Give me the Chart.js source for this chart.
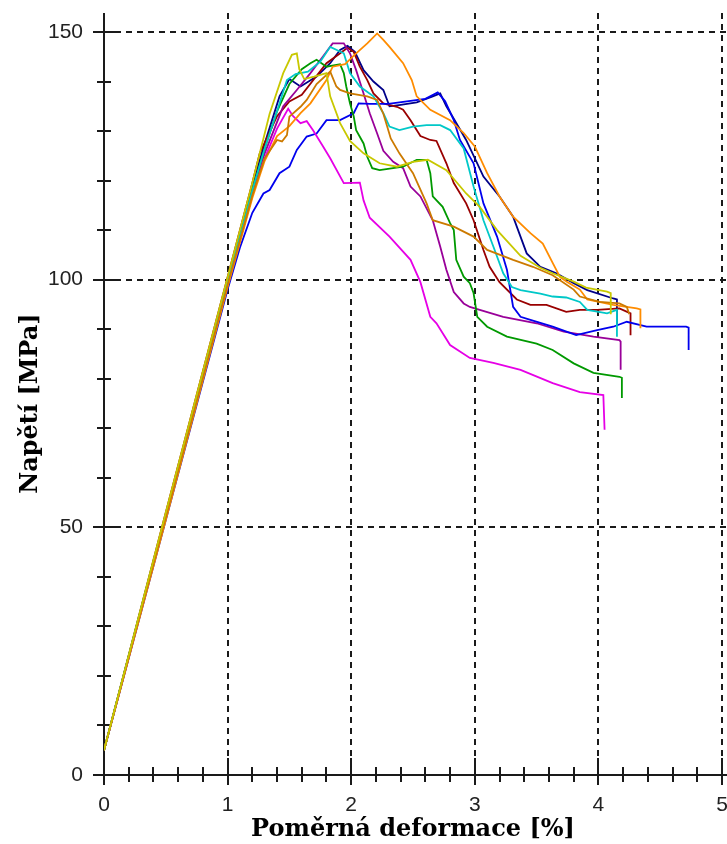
<!DOCTYPE html>
<html>
<head>
<meta charset="utf-8">
<title>Napětí – poměrná deformace</title>
<script src="https://cdn.jsdelivr.net/npm/chart.js@4.4.1/dist/chart.umd.min.js"></script>
<style>
  html, body { margin: 0; padding: 0; background: #fff; }
  canvas { display: block; }
</style>
</head>
<body>
<canvas id="chart" width="727" height="844"></canvas>
<script>
// Tensile test curves: strain [%] vs. stress [MPa], one pair of arrays per specimen.
const strainYellow = [0, 0.5, 1.0, 1.2, 1.34, 1.45, 1.52, 1.56, 1.58, 1.62, 1.7, 1.8, 1.83, 1.91, 1.99, 2.1, 2.23, 2.37, 2.5, 2.62, 2.77, 2.93, 3.04, 3.18, 3.37, 3.53, 3.63, 3.8, 3.9, 4.07, 4.1, 4.1];
const stressYellow = [5, 53, 100.5, 119.5, 133.5, 141.7, 145.4, 145.7, 142.5, 140.5, 141, 141.7, 137, 131.6, 128, 125.5, 123.5, 122.8, 123.8, 124.2, 122.1, 117.4, 114.7, 110, 104.8, 102.4, 101.3, 99.6, 98.4, 97.6, 97.3, 93];

const strainDarkRed = [0, 0.5, 1.0, 1.2, 1.26, 1.4, 1.5, 1.6, 1.7, 1.8, 1.9, 1.97, 2.02, 2.07, 2.13, 2.18, 2.26, 2.37, 2.42, 2.48, 2.56, 2.64, 2.69, 2.77, 2.83, 2.93, 2.99, 3.07, 3.12, 3.2, 3.34, 3.45, 3.58, 3.74, 3.85, 3.99, 4.17, 4.26, 4.26];
const stressDarkRed = [5, 53, 100.5, 119.5, 125.5, 133, 136, 137.3, 140.5, 143.7, 145.5, 146.8, 146, 143, 140.3, 137.6, 135.6, 134.9, 134.3, 132.2, 129, 128.2, 128, 123.5, 119.5, 115.4, 112, 106, 102.6, 99.5, 96, 94.9, 94.9, 93.5, 93.9, 93.9, 94.2, 93.2, 88.8];

const strainNavy = [0, 0.5, 1.0, 1.2, 1.3, 1.42, 1.5, 1.59, 1.72, 1.83, 1.91, 1.97, 2.03, 2.1, 2.18, 2.26, 2.31, 2.4, 2.53, 2.66, 2.72, 2.77, 2.83, 2.93, 3.07, 3.2, 3.31, 3.42, 3.53, 3.66, 3.8, 3.91, 4.12, 4.15, 4.15];
const stressNavy = [5, 52.5, 100, 119, 127.5, 137, 140.5, 139, 141, 143.7, 146.4, 147.2, 146, 142.3, 140, 138.3, 135, 135.3, 135.8, 137, 137.6, 135, 132.5, 128.2, 120.8, 116.8, 112.7, 105.3, 102.6, 101.3, 99.3, 97.9, 96.2, 96, 91];

const strainBlue = [0, 0.5, 1.0, 1.1, 1.2, 1.29, 1.34, 1.42, 1.5, 1.56, 1.64, 1.72, 1.8, 1.91, 2.02, 2.06, 2.15, 2.3, 2.45, 2.6, 2.7, 2.76, 2.83, 2.88, 2.99, 3.07, 3.18, 3.26, 3.31, 3.37, 3.45, 3.63, 3.82, 3.99, 4.12, 4.23, 4.39, 4.58, 4.71, 4.73, 4.73];
const stressBlue = [5, 51.5, 98, 106.5, 113.5, 117.4, 118.1, 121.5, 122.8, 126.2, 128.9, 129.5, 132.2, 132.2, 133.6, 135.6, 135.5, 135.5, 136, 136.5, 137.8, 136, 132.2, 128.2, 123.5, 115.4, 108.7, 102, 94.5, 92.5, 91.9, 90.5, 88.8, 89.8, 90.5, 91.5, 90.5, 90.5, 90.5, 90.3, 85.8];

const strainCyan = [0, 0.5, 1.0, 1.2, 1.3, 1.4, 1.48, 1.55, 1.65, 1.75, 1.83, 1.94, 1.99, 2.07, 2.18, 2.26, 2.31, 2.39, 2.5, 2.61, 2.72, 2.8, 2.91, 2.99, 3.07, 3.15, 3.23, 3.3, 3.37, 3.53, 3.63, 3.74, 3.85, 3.91, 4.07, 4.15, 4.15];
const stressCyan = [5, 52.5, 99.5, 118, 126.5, 134, 140.3, 141.5, 142, 144, 147, 145.7, 141.7, 139, 137, 133.6, 130.9, 130.2, 130.9, 131.2, 131.2, 130.2, 126.5, 118.8, 112, 106.7, 101.3, 98.5, 97.9, 97.2, 96.6, 96.4, 95.5, 93.9, 93.2, 93.9, 88.5];

const strainGreen = [0, 0.5, 1.0, 1.2, 1.3, 1.4, 1.5, 1.6, 1.67, 1.72, 1.8, 1.91, 1.94, 1.96, 1.99, 2.02, 2.04, 2.1, 2.13, 2.17, 2.23, 2.42, 2.53, 2.61, 2.64, 2.66, 2.74, 2.8, 2.83, 2.85, 2.91, 2.96, 2.99, 3.02, 3.1, 3.26, 3.5, 3.63, 3.8, 3.96, 4.17, 4.19, 4.19];
const stressGreen = [5, 52.5, 99.5, 118, 126.5, 134, 139.5, 142.5, 143.7, 144.4, 143, 143.5, 141.7, 139, 135.6, 133, 130.2, 127.5, 124.8, 122.5, 122.1, 122.8, 124.2, 124.2, 121.5, 116.8, 114.7, 111.4, 110, 104, 100.6, 99.3, 97.3, 92.5, 90.5, 88.5, 87.1, 85.8, 83.1, 81.2, 80.4, 80.2, 76.1];

const strainPurple = [0, 0.5, 1.0, 1.2, 1.3, 1.45, 1.56, 1.67, 1.77, 1.85, 1.94, 1.99, 2.04, 2.1, 2.15, 2.21, 2.26, 2.34, 2.42, 2.48, 2.56, 2.66, 2.72, 2.77, 2.83, 2.91, 2.96, 3.04, 3.23, 3.5, 3.72, 3.96, 4.17, 4.18, 4.18];
const stressPurple = [5, 52, 99, 117, 125.5, 135, 138.3, 141.7, 145, 147.7, 147.7, 145.7, 142.3, 137.6, 133.6, 129.5, 126, 123.8, 122.5, 118.8, 116.8, 112, 106.7, 102, 97.5, 95.2, 94.5, 93.9, 92.5, 91.2, 89.5, 88.5, 87.8, 87.5, 81.8];

const strainMagenta = [0, 0.5, 1.0, 1.2, 1.3, 1.4, 1.49, 1.53, 1.59, 1.64, 1.69, 1.77, 1.83, 1.94, 2.07, 2.1, 2.15, 2.31, 2.48, 2.56, 2.64, 2.69, 2.8, 2.96, 3.15, 3.37, 3.63, 3.85, 4.04, 4.05];
const stressMagenta = [5, 52, 99, 117, 124.5, 130.5, 134.5, 133, 131.6, 132, 130.2, 127, 124.5, 119.5, 119.6, 116, 112.5, 108.7, 104, 99.5, 92.5, 91.2, 86.8, 84.2, 83.2, 81.8, 79.1, 77.3, 76.7, 69.7];

const strainOrange = [0, 0.5, 1.0, 1.2, 1.3, 1.4, 1.5, 1.59, 1.67, 1.8, 1.85, 1.95, 2.04, 2.13, 2.21, 2.26, 2.31, 2.42, 2.49, 2.53, 2.64, 2.8, 2.91, 3.0, 3.1, 3.2, 3.31, 3.45, 3.55, 3.63, 3.69, 3.75, 3.85, 3.91, 4.12, 4.31, 4.34, 4.34];
const stressOrange = [5, 51.5, 98.5, 116.5, 124, 129, 131, 133.6, 135.6, 140.3, 143, 143.5, 145.7, 147.7, 149.7, 148.4, 147, 143.7, 140.3, 137, 134.3, 132.2, 129.6, 126.9, 121.5, 116.8, 112.7, 109.4, 107.3, 103.4, 100.5, 99.5, 98, 96, 94.9, 94.2, 94, 90.2];

const strainAmber = [0, 0.5, 1.0, 1.2, 1.3, 1.4, 1.44, 1.48, 1.5, 1.59, 1.64, 1.72, 1.83, 1.88, 1.91, 1.99, 2.13, 2.21, 2.26, 2.29, 2.32, 2.39, 2.5, 2.61, 2.66, 2.83, 2.99, 3.1, 3.31, 3.47, 3.63, 3.8, 3.85, 4.01, 4.17, 4.23, 4.25];
const stressAmber = [5, 52, 99, 117, 124.5, 128.2, 127.9, 129.2, 132.9, 134.9, 136.3, 139.5, 142, 139, 138.3, 137.6, 137, 136.3, 133.5, 131, 128.5, 125.5, 121.5, 115.4, 112, 110.7, 108.7, 106, 104, 102.6, 100.9, 98, 96.6, 95.5, 95.2, 94.5, 93];

// Axis tick values
const strainTicks = [0, 1, 2, 3, 4, 5];
const stressTicks = [0, 50, 100, 150];
const strainMinorStep = 0.2;
const stressMinorStep = 10;

function pairs(xs, ys) {
  return xs.map((x, i) => ({ x: x, y: ys[i] }));
}

const specimens = [
  { strain: strainYellow,  stress: stressYellow,  color: '#c8c800' },
  { strain: strainAmber,   stress: stressAmber,   color: '#cc7a00' },
  { strain: strainOrange,  stress: stressOrange,  color: '#ff8c00' },
  { strain: strainCyan,    stress: stressCyan,    color: '#00c8c8' },
  { strain: strainGreen,   stress: stressGreen,   color: '#009900' },
  { strain: strainMagenta, stress: stressMagenta, color: '#e600e6' },
  { strain: strainBlue,    stress: stressBlue,    color: '#0000ee' },
  { strain: strainPurple,  stress: stressPurple,  color: '#990099' },
  { strain: strainDarkRed, stress: stressDarkRed, color: '#990000' },
  { strain: strainNavy,    stress: stressNavy,    color: '#000088' }
];

// Axes with ticks crossing the axis line and dashed grid at the labelled values
const crossAxes = {
  id: 'crossAxes',
  beforeDatasetsDraw(chart) {
    const ctx = chart.ctx;
    const xs = chart.scales.x, ys = chart.scales.y;
    const x0 = Math.round(xs.getPixelForValue(0));
    const y0 = Math.round(ys.getPixelForValue(0));
    const frameTop = chart.chartArea.top - 19;
    const frameRight = chart.width;
    const line = (ax, ay, bx, by) => { ctx.beginPath(); ctx.moveTo(ax, ay); ctx.lineTo(bx, by); ctx.stroke(); };
    ctx.save();
    ctx.strokeStyle = '#1a1a1a';
    ctx.lineWidth = 2;
    ctx.setLineDash([6, 5]);
    strainTicks.forEach(v => {
      if (v === 0) return;
      const px = Math.round(xs.getPixelForValue(v));
      line(px, frameTop, px, y0);
    });
    stressTicks.forEach(v => {
      if (v === 0) return;
      const py = Math.round(ys.getPixelForValue(v));
      line(x0, py, frameRight, py);
    });
    ctx.setLineDash([]);
    line(x0, frameTop, x0, y0 + 8);
    line(x0 - 11, y0, frameRight, y0);
    for (let i = 0; i <= Math.round(xs.max / strainMinorStep); i++) {
      const v = i * strainMinorStep;
      const px = Math.round(xs.getPixelForValue(v));
      const major = strainTicks.some(t => Math.abs(t - v) < 1e-6);
      if (major) line(px, y0 - 17, px, y0 + 10);
      else line(px, y0 - 8, px, y0 + 7);
    }
    for (let i = 0; i <= Math.round(ys.max / stressMinorStep); i++) {
      const v = i * stressMinorStep;
      const py = Math.round(ys.getPixelForValue(v));
      const major = stressTicks.some(t => Math.abs(t - v) < 1e-6);
      if (major) line(x0 - 11, py, x0 + 11, py);
      else line(x0 - 7, py, x0 + 7, py);
    }
    ctx.restore();
  }
};

new Chart(document.getElementById('chart'), {
  type: 'line',
  data: {
    datasets: specimens.map(s => ({
      data: pairs(s.strain, s.stress),
      borderColor: s.color,
      backgroundColor: s.color,
      borderWidth: 1.8,
      pointRadius: 0,
      fill: false,
      tension: 0
    }))
  },
  options: {
    responsive: false,
    animation: false,
    devicePixelRatio: 1,
    layout: { padding: { top: 32, right: 5, left: 0, bottom: 0 } },
    plugins: { legend: { display: false }, tooltip: { enabled: false } },
    scales: {
      x: {
        type: 'linear',
        min: 0,
        max: 5,
        afterFit(scale) {
          scale.height = 69;
          scale.paddingLeft = 0;
          scale.paddingRight = 0;
        },
        afterBuildTicks(scale) { scale.ticks = strainTicks.map(v => ({ value: v })); },
        grid: { display: false, drawTicks: false },
        border: { display: false },
        ticks: {
          padding: 18,
          color: '#222',
          maxRotation: 0,
          autoSkip: false,
          font: { family: 'Liberation Sans', size: 21 }
        },
        title: {
          display: true,
          text: 'Poměrná deformace [%]',
          color: '#000',
          font: { family: 'DejaVu Serif', size: 24, weight: 'bold' },
          padding: { top: 2, bottom: 0 }
        }
      },
      y: {
        type: 'linear',
        min: 0,
        max: 150,
        afterFit(scale) {
          scale.width = 104;
          scale.paddingTop = 0;
          scale.paddingBottom = 0;
        },
        afterBuildTicks(scale) { scale.ticks = stressTicks.map(v => ({ value: v })); },
        grid: { display: false, drawTicks: false },
        border: { display: false },
        ticks: {
          padding: 21,
          color: '#222',
          autoSkip: false,
          font: { family: 'Liberation Sans', size: 21 }
        },
        title: {
          display: true,
          text: 'Napětí [MPa]',
          color: '#000',
          font: { family: 'DejaVu Serif', size: 24, weight: 'bold' },
          padding: { top: 16, bottom: 0 }
        }
      }
    }
  },
  plugins: [crossAxes]
});
</script>
</body>
</html>
